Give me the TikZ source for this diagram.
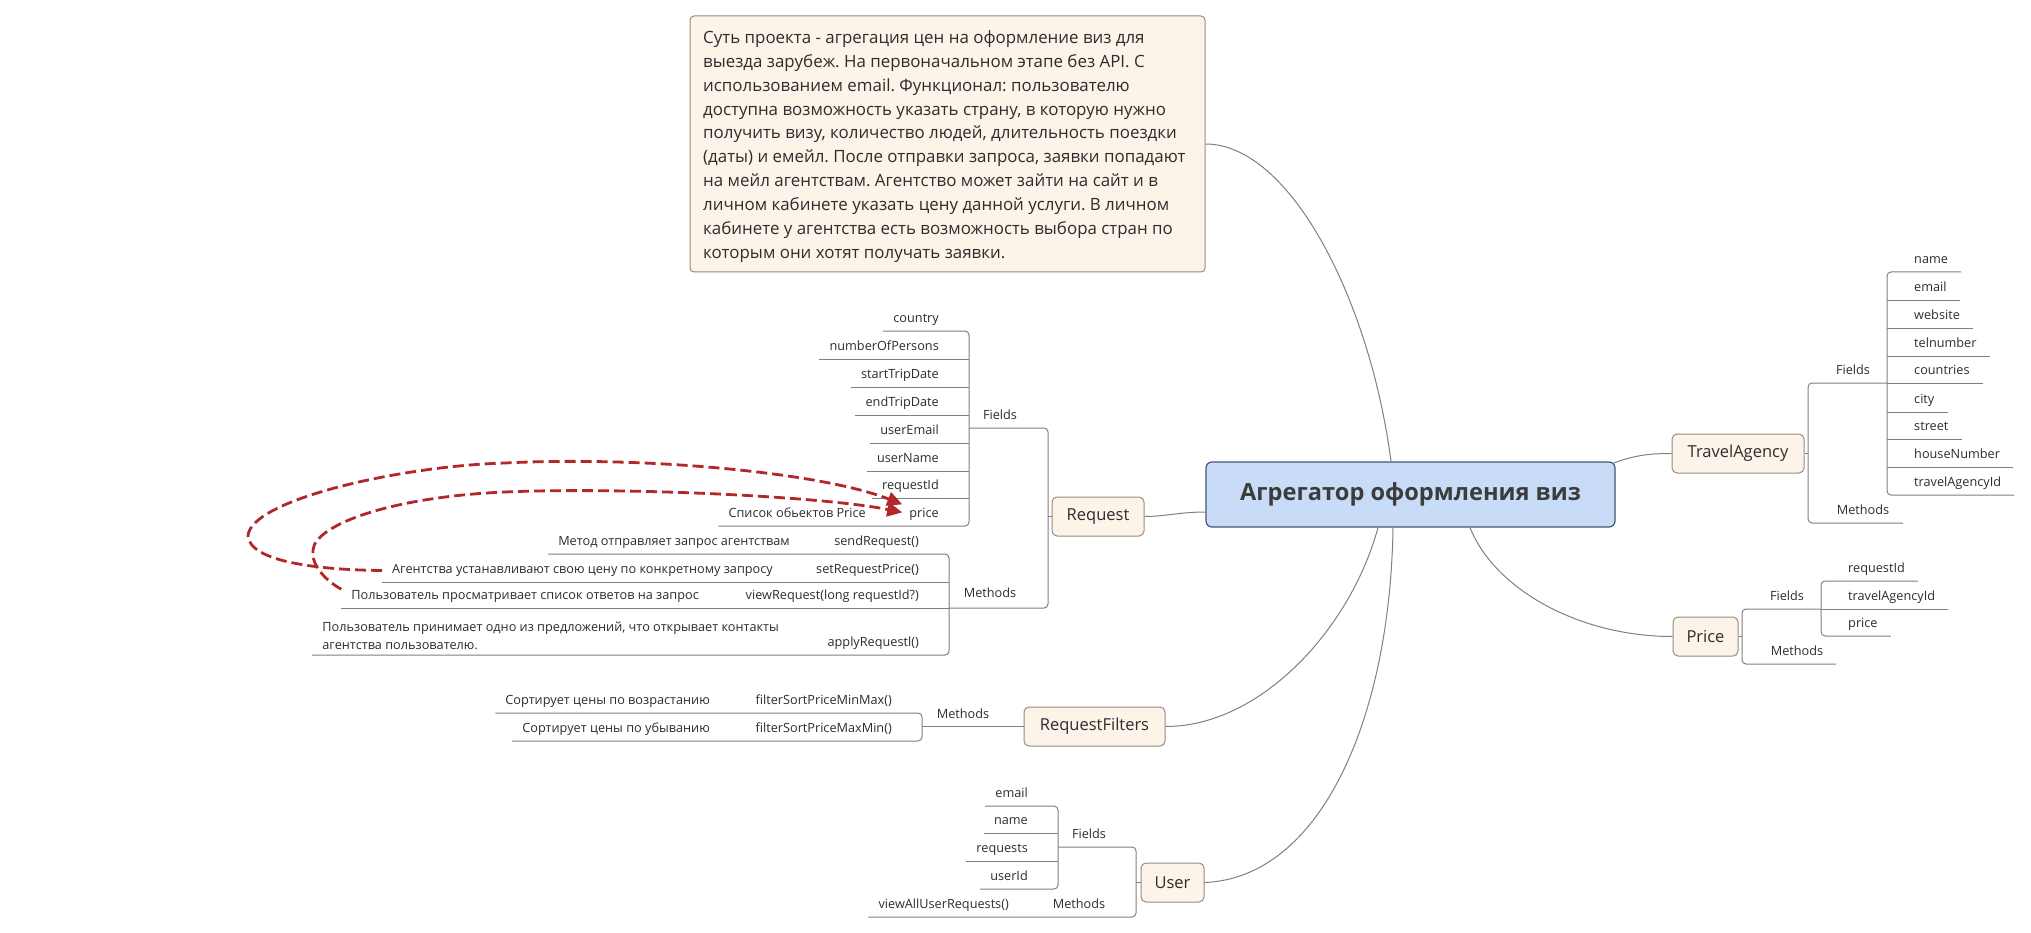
\documentclass[tikz,border=0pt]{standalone}
\usepackage{fontspec}
\setmainfont{Open Sans}
\usetikzlibrary{arrows.meta}
\definecolor{lncol}{RGB}{128,128,128}
\definecolor{txtcol}{RGB}{45,45,45}
\definecolor{topfill}{RGB}{252,243,233}
\definecolor{topdraw}{RGB}{150,140,130}
\definecolor{cfill}{RGB}{200,220,248}
\definecolor{cdraw}{RGB}{70,85,115}
\definecolor{ctxt}{RGB}{60,60,60}
\definecolor{arrcol}{RGB}{178,40,40}
\frenchspacing
\begin{document}
\begin{tikzpicture}[x=1pt,y=-1pt,
  leaffont/.style={font=\fontsize{12.7}{18}\selectfont, text=txtcol},
  lleaf/.style={leaffont, anchor=base east, inner xsep=10pt, inner ysep=1pt},
  rleaf/.style={leaffont, anchor=base west, inner xsep=13pt, inner ysep=1pt},
  clab/.style={leaffont, anchor=base, inner sep=1pt},
  br/.style={draw=lncol, line width=1pt, rounded corners=4pt},
  conn/.style={draw=lncol, line width=1pt},
  topic/.style={draw=topdraw, fill=topfill, line width=1pt, rounded corners=5pt, inner sep=0pt, minimum height=39pt, font=\fontsize{16.5}{20}\selectfont, text=txtcol},
  rootnode/.style={draw=cdraw, fill=cfill, line width=1.2pt, rounded corners=6pt, inner sep=0pt, minimum width=409pt, minimum height=65pt, font=\fontsize{23.6}{28}\selectfont\bfseries, text=ctxt},
  sumbox/.style={draw=topdraw, fill=topfill, line width=1pt, rounded corners=4pt, minimum width=515pt, minimum height=256pt, inner sep=0pt},
  sumtext/.style={font=\fontsize{16.9}{23.9}\selectfont, text=txtcol, align=left, anchor=west, inner sep=0pt},
  dasharrow/.style={draw=arrcol, line width=2.8pt, dash pattern=on 11pt off 5pt, -{Triangle[length=15pt,width=14pt]}}
]
\fill[white] (0,0) rectangle (2031,933);
\useasboundingbox (0,0) rectangle (2031,933);

% ---------- main topics ----------
\node[rootnode] (root) at (1410.5,494.5) {Агрегатор оформления виз};
\node[topic, minimum width=92pt] (request) at (1098,516.5) {Request};
\node[topic, minimum width=132pt] (travel) at (1738,453.5) {TravelAgency};
\node[topic, minimum width=65pt] (price) at (1705.5,636.5) {Price};
\node[topic, minimum width=141pt] (filters) at (1094.5,726.5) {RequestFilters};
\node[topic, minimum width=63pt] (user) at (1172.5,882.5) {User};
\node[sumbox] (summary) at (947.5,144) {};
\node[sumtext] (sumtxt) at (703,146.5) {Суть проекта - агрегация цен на оформление виз для\\
выезда зарубеж. На первоначальном этапе без API. С\\
использованием email. Функционал: пользователю\\
доступна возможность указать страну, в которую нужно\\
получить визу, количество людей, длительность поездки\\
(даты) и емейл. После отправки запроса, заявки попадают\\
на мейл агентствам. Агентство может зайти на сайт и в\\
личном кабинете указать цену данной услуги. В личном\\
кабинете у агентства есть возможность выбора стран по\\
которым они хотят получать заявки.};

% ---------- connectors from root ----------
\draw[conn] (summary.east) .. controls (1290,144) and (1370,300) .. (1391,0 |- root.north);
\draw[conn] ([xshift=-3pt,yshift=-2pt]root.north east) .. controls (1635,455) and (1650,453.5) .. (travel.west);
\draw[conn] (1470,0 |- root.south) .. controls (1495,590) and (1580,636.5) .. (price.west);
\draw[conn] (root.west |- 0,512) .. controls (1180,512) and (1165,516.5) .. (request.east);
\draw[conn] (1378,0 |- root.south) .. controls (1350,630) and (1260,726.5) .. (filters.east);
\draw[conn] (1393,0 |- root.south) .. controls (1390,720) and (1320,878) .. (user.east);

% ---------- Request ----------
\node[lleaf] (rcountry) at (949,322.5) {country};
\node[lleaf] (rpersons) at (949,350.5) {numberOfPersons};
\node[lleaf] (rstart) at (949,378.5) {startTripDate};
\node[lleaf] (rend) at (949,406.5) {endTripDate};
\node[lleaf] (rmail) at (949,434.5) {userEmail};
\node[lleaf] (rname) at (949,462.5) {userName};
\node[lleaf] (rid) at (949,489.5) {requestId};
\node[lleaf] (rprice) at (949,517.5) {price};
\node[lleaf] (rpricenote) at (876,517.5) {Список обьектов Price};
\node[clab] (rfields) at (1000,419.5) {Fields};
\node[clab] (rmethods) at (990,597) {Methods};

\node[lleaf] (msend) at (929,545.5) {sendRequest()};
\node[lleaf] (msenddesc) at (800,545.5) {Метод отправляет запрос агентствам};
\node[lleaf] (mset) at (929,573.5) {setRequestPrice()};
\node[lleaf] (msetdesc) at (783,573.5) {Агентства устанавливают свою цену по конкретному запросу};
\node[lleaf] (mview) at (929,599.5) {viewRequest(long requestId?)};
\node[lleaf] (mviewdesc) at (709,599.5) {Пользователь просматривает список ответов на запрос};
\node[lleaf] (mapply) at (929,646.5) {applyRequestl()};
\node[leaffont, anchor=south east, inner xsep=10pt, inner ysep=1pt, align=left] (mapplydesc) at (789,651) {Пользователь принимает одно из предложений, что открывает контакты\\агентства пользователю.};

\draw[br] (rcountry.west |- 0,331) -- (969,331) -- (969,526) -- (rpricenote.west |- 0,526);
\draw[conn] (rpersons.west |- 0,359) -- (969,359);
\draw[conn] (rstart.west |- 0,387) -- (969,387);
\draw[conn] (rend.west |- 0,415) -- (969,415);
\draw[conn] (rmail.west |- 0,443) -- (969,443);
\draw[conn] (rname.west |- 0,471) -- (969,471);
\draw[conn] (rid.west |- 0,498) -- (969,498);

\draw[br] (msenddesc.west |- 0,554) -- (949,554) -- (949,655) -- (mapplydesc.west |- 0,655);
\draw[conn] (msetdesc.west |- 0,582) -- (949,582);
\draw[conn] (mviewdesc.west |- 0,608) -- (949,608);

\draw[br] (969,428) -- (1048,428) -- (1048,608) -- (949,608);
\draw[conn] (1048,0 |- request.west) -- (request.west);

% dashed arrows
\draw[dasharrow] (msetdesc.west) .. controls (320,570) and (250,562) .. (248,536)
   .. controls (250,500) and (400,466) .. (505,463)
   .. controls (640,456) and (820,472) .. ([xshift=3pt,yshift=10pt]rprice.west);
\draw[dasharrow] (mviewdesc.north west) .. controls (325,580) and (311,565) .. (313,550)
   .. controls (315,525) and (390,497) .. (505,492)
   .. controls (620,487) and (820,496) .. ([xshift=3pt,yshift=2pt]rprice.west);

% ---------- RequestFilters ----------
\node[lleaf] (fmin) at (902,704.5) {filterSortPriceMinMax()};
\node[lleaf] (fmindesc) at (720,704.5) {Сортирует цены по возрастанию};
\node[lleaf] (fmax) at (902,732.5) {filterSortPriceMaxMin()};
\node[lleaf] (fmaxdesc) at (720,732.5) {Сортирует цены по убыванию};
\node[clab] (fmethods) at (963,718.5) {Methods};
\draw[br] (fmindesc.west |- 0,713) -- (922,713) -- (922,741) -- (fmaxdesc.west |- 0,741);
\draw[conn] (922,0 |- filters.west) -- (filters.west);

% ---------- User ----------
\node[lleaf] (uemail) at (1038,797.5) {email};
\node[lleaf] (uname) at (1038,824.5) {name};
\node[lleaf] (ureq) at (1038,852.5) {requests};
\node[lleaf] (uid) at (1038,880.5) {userId};
\node[clab] (ufields) at (1089,838.5) {Fields};
\node[clab] (umethods) at (1079,908.5) {Methods};
\node[lleaf] (uview) at (1019,908.5) {viewAllUserRequests()};
\draw[br] (uemail.west |- 0,806) -- (1058,806) -- (1058,889) -- (uid.west |- 0,889);
\draw[conn] (uname.west |- 0,833) -- (1058,833);
\draw[conn] (ureq.west |- 0,861) -- (1058,861);
\draw[br] (1058,847) -- (1136,847) -- (1136,917) -- (uview.west |- 0,917);
\draw[conn] (1136,0 |- user.west) -- (user.west);

% ---------- TravelAgency ----------
\node[rleaf] (tname) at (1901,263.5) {name};
\node[rleaf] (temail) at (1901,291.5) {email};
\node[rleaf] (tweb) at (1901,319.5) {website};
\node[rleaf] (ttel) at (1901,347.5) {telnumber};
\node[rleaf] (tcountries) at (1901,374.5) {countries};
\node[rleaf] (tcity) at (1901,403.5) {city};
\node[rleaf] (tstreet) at (1901,430.5) {street};
\node[rleaf] (thouse) at (1901,458.5) {houseNumber};
\node[rleaf] (tid) at (1901,486.5) {travelAgencyId};
\node[clab] (tfields) at (1853,374.5) {Fields};
\node[clab] (tmethods) at (1863,514.5) {Methods};
\draw[br] (tname.east |- 0,272) -- (1887,272) -- (1887,495) -- (tid.east |- 0,495);
\draw[conn] (1887,300) -- (temail.east |- 0,300);
\draw[conn] (1887,328) -- (tweb.east |- 0,328);
\draw[conn] (1887,356) -- (ttel.east |- 0,356);
\draw[conn] (1887,383) -- (tcountries.east |- 0,383);
\draw[conn] (1887,412) -- (tcity.east |- 0,412);
\draw[conn] (1887,439) -- (tstreet.east |- 0,439);
\draw[conn] (1887,467) -- (thouse.east |- 0,467);
\draw[br] (1887,383) -- (1808,383) -- (1808,523) -- (1903,523);
\draw[conn] (travel.east) -- (1808,0 |- travel.east);

% ---------- Price ----------
\node[rleaf] (preq) at (1835,572.5) {requestId};
\node[rleaf] (pta) at (1835,600.5) {travelAgencyId};
\node[rleaf] (pprice) at (1835,627.5) {price};
\node[clab] (pfields) at (1787,600.5) {Fields};
\node[clab] (pmethods) at (1797,655.5) {Methods};
\draw[br] (preq.east |- 0,581) -- (1821,581) -- (1821,636) -- (pprice.east |- 0,636);
\draw[conn] (1821,609) -- (pta.east |- 0,609);
\draw[br] (1821,609) -- (1742,609) -- (1742,664) -- (1836,664);
\draw[conn] (price.east) -- (1742,0 |- price.east);
\end{tikzpicture}
\end{document}
